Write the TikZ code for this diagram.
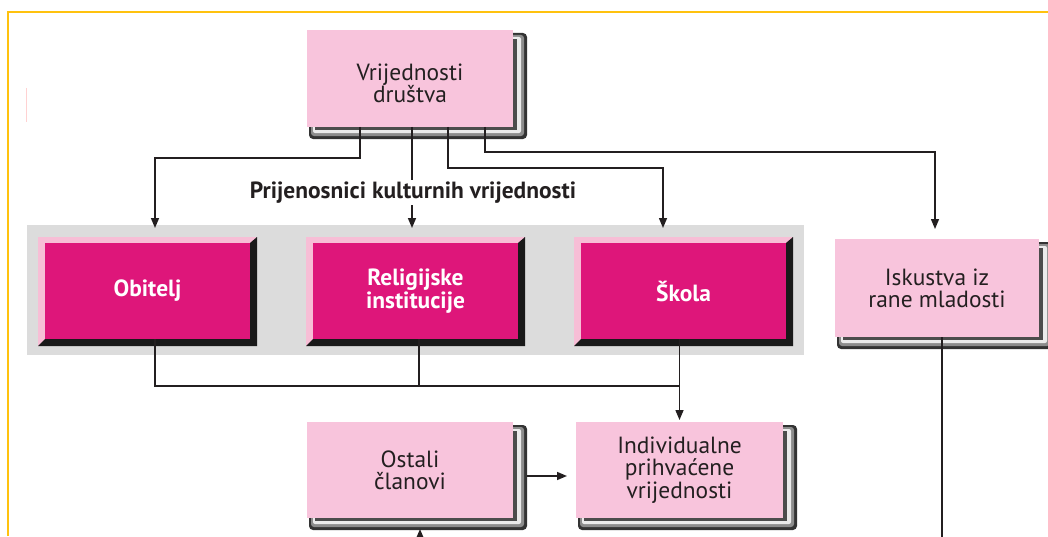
\documentclass[tikz,border=0pt]{standalone}
\usepackage{fontspec}
\setmainfont{PT Sans}
\usepackage{tikz}
\usetikzlibrary{calc,arrows.meta,backgrounds}

\newlength{\pxl}
\setlength{\pxl}{0.03cm}
\definecolor{lpink}{RGB}{248,196,220}
\definecolor{bvpink}{RGB}{247,190,214}
\definecolor{mag}{RGB}{222,22,122}
\definecolor{band}{RGB}{220,220,220}
\definecolor{frame}{RGB}{255,194,14}
\definecolor{ink}{RGB}{35,31,32}

\newcommand{\boxshadow}[1]{%
	\fill[black!80,rounded corners=4\pxl] ($(#1.north west)+(2,3)$) rectangle ($(#1.south east)+(14,12)$);
	\fill[black!45,rounded corners=3\pxl] ($(#1.north west)+(4,5)$) rectangle ($(#1.south east)+(11,9)$);
	\fill[black!8,rounded corners=2\pxl] ($(#1.north west)+(6,7)$) rectangle ($(#1.south east)+(8,6)$);
	\fill[black!70] ($(#1.north west)+(8,9)$) rectangle ($(#1.south east)+(4,3)$);}
\newcommand{\magbevel}[1]{%
	\fill[bvpink] ($(#1.north west)+(-7,-6)$) rectangle ($(#1.south east)+(7,7)$);
	\fill[black!90] ($(#1.south west)+(-7,7)$) -- ($(#1.south east)+(7,7)$) -- ($(#1.north east)+(7,-6)$)
		-- (#1.north east) -- (#1.south east) -- (#1.south west) -- cycle;}

\begin{document}
\begin{tikzpicture}[x=\pxl,y=-\pxl,
		lbox/.style={fill=lpink,text=ink,minimum width=206\pxl,minimum height=97\pxl,align=center,
			inner sep=0pt,outer sep=0pt,font=\fontsize{20}{19}\selectfont},
		mbox/.style={fill=mag,text=white,minimum width=205\pxl,minimum height=96\pxl,align=center,
			inner sep=0pt,outer sep=0pt,font=\bfseries\fontsize{20}{19}\selectfont},
		con/.style={draw=ink,line width=1.3pt},
		arr/.style={con,-{Triangle[length=3mm,width=2.4mm]}}]
		\useasboundingbox (0,0) rectangle (1048,536);
		\clip (0,0) rectangle (1048,536);

		\node[lbox] (vd) at (410,78.5) {\\[4pt]Vrijednosti\\društva};
		\node[font=\bfseries\fontsize{20}{19}\selectfont,text=ink,inner sep=0pt,minimum height=25\pxl] (kv) at (413,192.5) {Prijenosnici kulturnih vrijednosti};
		\node[mbox] (ob) at (147.5,291) {Obitelj};
		\node[mbox] (ri) at (415.5,291) {Religijske\\institucije};
		\node[mbox] (sk) at (683.5,291) {Škola};
		\node[lbox,minimum width=204\pxl,minimum height=98\pxl] (is) at (937,288) {Iskustva iz\\rane mladosti};
		\node[lbox,minimum height=96\pxl] (os) at (410,470) {Ostali\\članovi};
		\node[lbox,minimum width=207\pxl,minimum height=96\pxl] (iv) at (679.5,470) {Individualne\\prihvaćene\\vrijednosti};

		\begin{scope}[on background layer]
			\fill[band] (27,225) rectangle (804,355);
			\magbevel{ob} \magbevel{ri} \magbevel{sk}
			\boxshadow{vd} \boxshadow{is} \boxshadow{os} \boxshadow{iv}
		\end{scope}

		\draw[frame,line width=2.5\pxl] (8,536) -- (8,12) -- (1048,12);
		\draw[pink!70,line width=1\pxl] (26,88) -- (26,122);

		\draw[arr] ($(vd.south)+(-50,0)$) -- ++(0,31) -| ($(ob.north)+(7.5,-15)$);
		\draw[con] ($(vd.south)+(2,0)$) -- ($(kv.north)+(-1,0)$);
		\draw[arr] ($(kv.south)+(-1,0)$) -- ($(ri.north)+(-3.5,-15)$);
		\draw[arr] ($(vd.south)+(38,0)$) -- ++(0,41) -| ($(sk.north)+(-20.5,-15)$);
		\draw[arr] ($(vd.south)+(75,0)$) -- ++(0,25) -| ($(is.north)+(-2,-10)$);

		\coordinate (mrg) at (679.5,386);
		\draw[con] ($(ob.south)+(7.5,0)$) |- (mrg);
		\draw[con] ($(ri.south)+(3.5,0)$) -- ++(0,47);
		\draw[arr] (sk.south -| iv.north) -- ($(iv.north)+(0,-2)$);
		\draw[arr] ($(os.east)+(14,6)$) -- ($(iv.west)+(-9,6)$);

		\coordinate (bot1) at (420,560);
		\coordinate (bot2) at (942,560);
		\draw[arr] (bot1) -- ($(os.south)+(10,11)$);
		\draw[con] ($(is.south)+(5,0)$) -- (bot2);
\end{tikzpicture}
\end{document}
